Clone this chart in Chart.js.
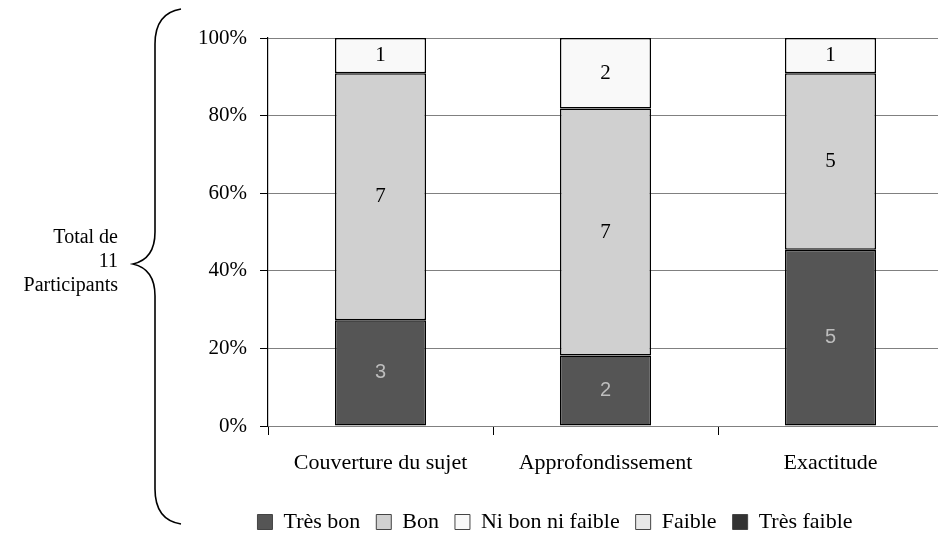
<!DOCTYPE html>
<html>
<head>
<meta charset="utf-8">
<script src="https://cdn.jsdelivr.net/npm/chart.js@4.4.0/dist/chart.umd.min.js"></script>
<style>
  html, body { margin: 0; padding: 0; background: #fff; overflow: hidden; }
  #wrap { width: 938px; height: 533px; overflow: hidden; }
</style>
</head>
<body>
<div id="wrap"><canvas id="c" width="945" height="533"></canvas></div>
<script>
const categories = ["Couverture du sujet", "Approfondissement", "Exactitude"];
const seriesNames = ["Très bon", "Bon", "Ni bon ni faible", "Faible", "Très faible"];
const tresBon = [3, 2, 5];
const bon = [7, 7, 5];
const niBonNiFaible = [1, 2, 1];
const faible = [0, 0, 0];
const tresFaible = [0, 0, 0];
const yTicks = [0, 20, 40, 60, 80, 100];

const counts = [tresBon, bon, niBonNiFaible, faible, tresFaible];
const colors = ["#555555", "#d0d0d0", "#f9f9f9", "#e8e8e8", "#333333"];
const labelColors = ["#bdbdbd", "#000", "#000", "#000", "#fff"];
const totals = categories.map((_, i) => counts.reduce((s, a) => s + a[i], 0));

const serif = "'Liberation Serif', 'Times New Roman', serif";

const datasets = counts.map((arr, k) => ({
  label: seriesNames[k],
  data: arr.map((v, i) => v / totals[i] * 100),
  counts: arr,
  backgroundColor: colors[k],
  borderColor: "#000",
  borderWidth: 1.5,
  borderSkipped: false,
  barPercentage: 0.405,
  categoryPercentage: 1
}));

const barLabels = {
  id: "barLabels",
  afterDatasetsDraw(chart) {
    const ctx = chart.ctx;
    ctx.save();
    ctx.textAlign = "center";
    ctx.textBaseline = "middle";
    chart.data.datasets.forEach((ds, k) => {
      chart.getDatasetMeta(k).data.forEach((bar, i) => {
        const v = ds.counts[i];
        if (!v) return;
        ctx.fillStyle = labelColors[k];
        ctx.font = k === 0 ? "20px 'Liberation Sans', Arial, sans-serif" : "21px " + serif;
        ctx.fillText(String(v), bar.x, (bar.y + bar.base) / 2);
      });
    });
    ctx.restore();
  }
};

const brace = {
  id: "brace",
  afterDraw(chart) {
    const ctx = chart.ctx;
    ctx.save();
    ctx.strokeStyle = "#000";
    ctx.lineWidth = 1.6;
    ctx.beginPath();
    ctx.moveTo(181, 9);
    ctx.bezierCurveTo(162, 12, 155, 26, 155, 44);
    ctx.lineTo(155, 232);
    ctx.bezierCurveTo(155, 252, 146, 261, 133, 264);
    ctx.bezierCurveTo(146, 267, 155, 276, 155, 296);
    ctx.lineTo(155, 489);
    ctx.bezierCurveTo(155, 507, 162, 521, 181, 524);
    ctx.stroke();
    ctx.fillStyle = "#000";
    ctx.font = "20px " + serif;
    ctx.textAlign = "right";
    ctx.textBaseline = "middle";
    ctx.fillText("Total de", 118, 238);
    ctx.fillText("11", 118, 262);
    ctx.fillText("Participants", 118, 286);
    ctx.restore();
  }
};

new Chart(document.getElementById("c"), {
  type: "bar",
  data: { labels: categories, datasets },
  options: {
    responsive: false,
    animation: false,
    layout: { padding: { top: 38, right: 2, left: 167, bottom: -10 } },
    plugins: {
      tooltip: { enabled: false },
      legend: {
        position: "bottom",
        labels: {
          color: "#000",
          font: { family: serif, size: 22 },
          boxWidth: 15,
          boxHeight: 15,
          padding: 16,
          generateLabels(chart) {
            return chart.data.datasets.map((ds, k) => ({
              text: ds.label,
              fillStyle: ds.backgroundColor,
              strokeStyle: "#444",
              lineWidth: 1,
              datasetIndex: k
            }));
          }
        }
      }
    },
    scales: {
      x: {
        stacked: true,
        grid: { drawOnChartArea: false, color: "#000", tickLength: 9, offset: true },
        border: { color: "#808080", width: 1 },
        ticks: { color: "#000", font: { family: serif, size: 22 }, padding: 15, maxRotation: 0 },
        afterFit(scale) { scale.height = 69; }
      },
      y: {
        stacked: true,
        min: 0,
        max: 100,
        afterBuildTicks(scale) { scale.ticks = yTicks.map(v => ({ value: v })); },
        grid: { color: "#808080", tickColor: "#000", tickLength: 8, lineWidth: 1 },
        border: { color: "#000", width: 1.2 },
        ticks: { color: "#000", font: { family: serif, size: 21 }, padding: 13, callback: v => v + "%" },
        afterFit(scale) { scale.width = 101; }
      }
    }
  },
  plugins: [barLabels, brace]
});
</script>
</body>
</html>
